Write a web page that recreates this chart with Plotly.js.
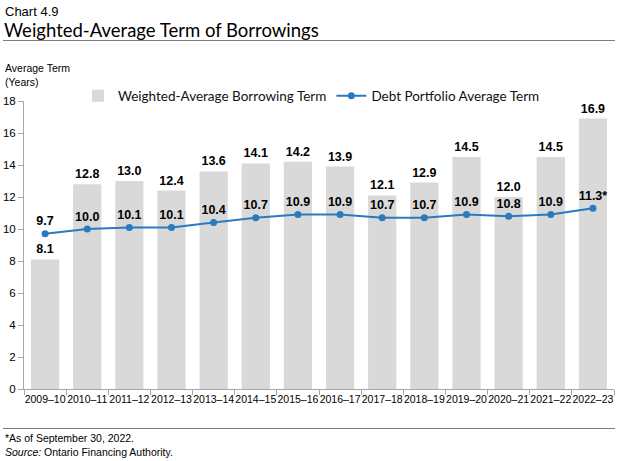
<!DOCTYPE html>
<html><head><meta charset="utf-8">
<script src="https://cdn.plot.ly/plotly-3.0.1.min.js"></script>
<style>html,body{margin:0;padding:0;background:#fff}#c{width:618px;height:461px}</style>
</head><body><div id="c"></div>
<script>
const categories = ["2009–10","2010–11","2011–12","2012–13","2013–14","2014–15","2015–16","2016–17","2017–18","2018–19","2019–20","2020–21","2021–22","2022–23"];
const borrowingTerm = [8.1,12.8,13.0,12.4,13.6,14.1,14.2,13.9,12.1,12.9,14.5,12.0,14.5,16.9];
const portfolioTerm = [9.7,10.0,10.1,10.1,10.4,10.7,10.9,10.9,10.7,10.7,10.9,10.8,10.9,11.3];
const portfolioNotes = ["","","","","","","","","","","","","","*"];
const yTicks = [0,2,4,6,8,10,12,14,16,18];

const narrow = '"Liberation Sans Narrow", "Arial Narrow", "Liberation Sans", Arial, sans-serif';
const geo = 'Lato, "Open Sans", sans-serif';

const traces = [
  {type:'bar', name:'Weighted-Average Borrowing Term', x:categories, y:borrowingTerm,
   marker:{color:'#d9d9d9'}, text:borrowingTerm.map(v=>v.toFixed(1)), textposition:'outside',
   textfont:{family:narrow, size:12.5, color:'#000', weight:'bold'}, cliponaxis:false, hoverinfo:'none'},
  {type:'scatter', mode:'lines+markers+text', name:'Debt Portfolio Average Term', x:categories, y:portfolioTerm,
   line:{color:'#2a7abf', width:2}, marker:{color:'#2a7abf', size:7},
   text:portfolioTerm.map((v,i)=>v.toFixed(1)+portfolioNotes[i]), textposition:'top center',
   textfont:{family:narrow, size:12.5, color:'#000', weight:'bold'}, cliponaxis:false, hoverinfo:'none'}
];

const H = 288, W = 590;
const py = p => (389 - p)/H;
const px = p => (p - 24)/W;

const layout = {
  width:618, height:461,
  margin:{l:24, r:4, t:101, b:72, autoexpand:false},
  paper_bgcolor:'#fff', plot_bgcolor:'#fff',
  bargap:0.33,
  showlegend:true,
  legend:{orientation:'h', x:px(78), y:py(96), xanchor:'left', yanchor:'middle',
    font:{family:geo, size:13.5, color:'#111'}, itemwidth:30, traceorder:'normal', tracegroupgap:0},
  xaxis:{type:'category', range:[-0.5, categories.length-0.5], automargin:false, showline:true, linecolor:'#a6a6a6', linewidth:1, ticks:'outside', ticklen:5,
    tickcolor:'#a6a6a6', tickson:'boundaries', showgrid:false, zeroline:false, tickangle:0,
    tickfont:{family:narrow, size:10.5, color:'#000'}},
  yaxis:{range:[0,18], automargin:false, tickvals:yTicks, showline:true, linecolor:'#a6a6a6', linewidth:1, ticks:'outside',
    ticklen:5, tickcolor:'#a6a6a6', showgrid:false, zeroline:false,
    tickfont:{family:narrow, size:11.5, color:'#000'}},
  shapes:[
    {type:'line', xref:'paper', yref:'paper', x0:px(3), x1:px(615), y0:py(40.5), y1:py(40.5), line:{color:'#7f7f7f', width:1}},
    {type:'line', xref:'paper', yref:'paper', x0:px(3), x1:px(615), y0:py(428.5), y1:py(428.5), line:{color:'#7f7f7f', width:1}}
  ],
  annotations:[
    {xref:'paper', yref:'paper', x:px(3), y:py(11), xanchor:'left', yanchor:'middle', showarrow:false,
     text:'Chart 4.9', font:{family:narrow, size:13, color:'#000'}},
    {xref:'paper', yref:'paper', x:px(2), y:py(29.5), xanchor:'left', yanchor:'middle', showarrow:false,
     text:'Weighted-Average Term of Borrowings', font:{family:geo, size:18.5, color:'#000'}},
    {xref:'paper', yref:'paper', x:px(3), y:py(75), xanchor:'left', yanchor:'middle', showarrow:false, align:'left',
     text:'Average Term<br>(Years)', font:{family:narrow, size:10.5, color:'#000'}},
    {xref:'paper', yref:'paper', x:px(3), y:py(438), xanchor:'left', yanchor:'middle', showarrow:false,
     text:'*As of September 30, 2022.', font:{family:narrow, size:10.5, color:'#000'}},
    {xref:'paper', yref:'paper', x:px(3), y:py(452), xanchor:'left', yanchor:'middle', showarrow:false,
     text:'<i>Source:</i> Ontario Financing Authority.', font:{family:narrow, size:10.5, color:'#000'}}
  ]
};
Plotly.newPlot('c', traces, layout, {displayModeBar:false, staticPlot:true});
</script></body></html>
